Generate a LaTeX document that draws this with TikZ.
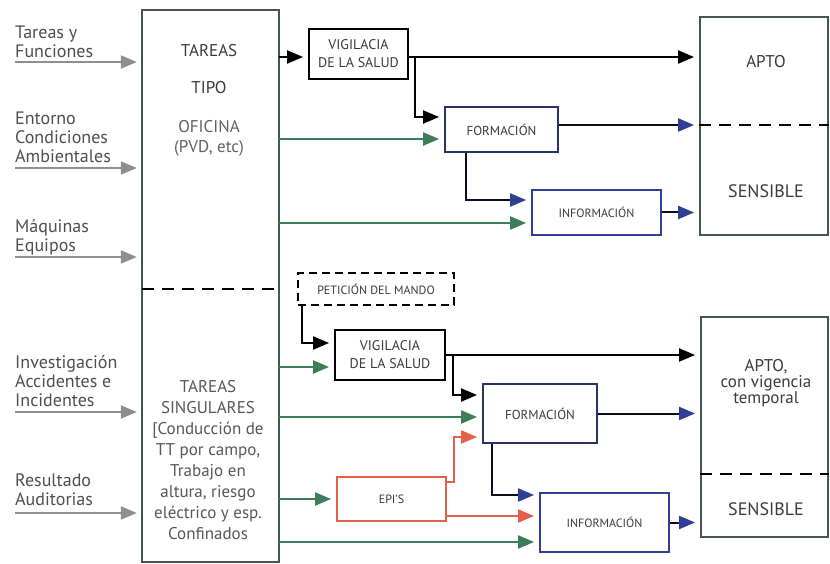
\documentclass[tikz,border=0pt]{standalone}
\usepackage{fontspec}
\setmainfont{PT Sans}
\usepackage{xcolor}
\usetikzlibrary{arrows.meta, positioning, calc}
\definecolor{verde}{HTML}{3E7D5A}
\definecolor{gris}{HTML}{8E8E8E}
\definecolor{azul}{HTML}{2F3F94}
\definecolor{marino}{HTML}{2A3068}
\definecolor{rojo}{HTML}{E2604C}
\definecolor{borde}{HTML}{43574E}
\definecolor{texto}{HTML}{3A3A3A}
\tikzstyle{caja} = [draw, line width=1.8pt, inner sep=0pt, align=center, text=texto]
\tikzstyle{vigilancia} = [caja, draw=black, font=\fontsize{14}{18}\selectfont]
\tikzstyle{formacion} = [caja, draw=marino, font=\fontsize{13}{16}\selectfont]
\tikzstyle{informacion} = [caja, draw=azul, font=\fontsize{12}{15}\selectfont]
\tikzstyle{proteccion} = [caja, draw=rojo, font=\fontsize{12}{15}\selectfont]
\tikzstyle{peticion} = [caja, draw=black, dash pattern=on 8pt off 5pt, font=\fontsize{12}{14}\selectfont]
\tikzstyle{resultado} = [caja, draw=borde]
\tikzstyle{etiqueta} = [anchor=north west, inner sep=0pt, align=left, text=texto!90, font=\fontsize{18}{19}\selectfont]
\tikzstyle{textocaja} = [anchor=north, inner sep=0pt, align=center, text=texto]
\tikzstyle{flecha} = [line width=2pt, -{Triangle[length=16pt,width=13pt]}, shorten >=5pt]
\tikzstyle{flechagris} = [flecha, gris]
\tikzstyle{flechaverde} = [flecha, verde]
\tikzstyle{flechanegra} = [flecha, black]
\tikzstyle{flecharoja} = [flecha, rojo]
\tikzstyle{flechaazul} = [flecha, draw=black!80!azul, -{Triangle[length=16pt,width=13pt,color=azul]}]
\tikzstyle{division} = [line width=1.8pt, dash pattern=on 12pt off 8pt]

\begin{document}
\begin{tikzpicture}[x=1pt, y=-1pt]
        \useasboundingbox (0,0) rectangle (830,564);

        % Bloques de tareas
        \node[minimum width=137pt, minimum height=279pt, inner sep=0pt] (oficina) at (210.5,149.5) {};
        \node[minimum width=137pt, minimum height=273pt, inner sep=0pt] (singular) at (210.5,425.5) {};
        \draw[borde, line width=1.8pt] (oficina.south west) -- (oficina.north west) -- (oficina.north east) -- (oficina.south east);
        \draw[borde, line width=1.8pt] (singular.north west) -- (singular.south west) -- (singular.south east) -- (singular.north east);
        \draw[division] (oficina.south west) -- (oficina.south east);
        \node[textocaja, font=\fontsize{17}{20}\selectfont] (oficinatxt) at (209,44) {TAREAS\\[17pt]TIPO\\[19pt]{\color{texto!80}OFICINA}\\{\color{texto!80}(PVD, etc)}};
        \node[textocaja, font=\fontsize{17}{21}\selectfont, text=texto!85] (singulartxt) at (208,380) {TAREAS\\SINGULARES\\{[}Conducción de\\TT por campo,\\Trabajo en\\altura, riesgo\\eléctrico y esp.\\Confinados};

        % Entradas
        \node[etiqueta] (tareasfunc) at (15,26) {Tareas y\\Funciones};
        \node[etiqueta] (entorno) at (15,112) {Entorno\\Condiciones\\Ambientales};
        \node[etiqueta] (maquinas) at (15,219) {Máquinas\\Equipos};
        \node[etiqueta] (investigacion) at (15,355) {Investigación\\Accidentes e\\Incidentes};
        \node[etiqueta] (auditorias) at (15,474) {Resultado\\Auditorias};
        \foreach \y/\n in {62/e1, 168/e2, 257/e3, 412/e4, 513/e5}
            \coordinate (\n) at (15,\y);
        \foreach \n in {e1, e2, e3}
            \draw[flechagris] (\n) -- (\n -| oficina.west);
        \foreach \n in {e4, e5}
            \draw[flechagris] (\n) -- (\n -| singular.west);

        % Tareas tipo
        \node[vigilancia, minimum width=99pt, minimum height=50pt] (vig1) at (358.5,54) {VIGILACIA\\DE LA SALUD};
        \node[formacion, minimum width=113pt, minimum height=45pt] (form1) at (501.5,129.5) {FORMACIÓN};
        \node[informacion, minimum width=129pt, minimum height=45pt] (info1) at (596.5,212.5) {INFORMACIÓN};
        \node[resultado, minimum width=128pt, minimum height=218pt] (apto1) at (764,126) {};
        \draw[division] ($(apto1.west)+(0,-1)$) -- ($(apto1.east)+(0,-1)$);
        \node[textocaja, font=\fontsize{17}{20}\selectfont] (apto1txt) at (766,55) {APTO};
        \node[textocaja, font=\fontsize{18}{20}\selectfont] (sensible1) at (766,184) {SENSIBLE};

        \coordinate (v1) at ($(vig1.east)+(0,3)$);
        \draw[flechanegra] (v1 -| oficina.east) -- ($(vig1.west)+(0,3)$);
        \draw[flechanegra] (v1) -- (v1 -| apto1.west);
        \draw[flechanegra] ($(v1)+(6,0)$) |- ($(form1.west)+(0,-12.5)$);
        \coordinate (f1v) at ($(form1.west)+(0,9.5)$);
        \draw[flechaverde] (f1v -| oficina.east) -- (f1v);
        \coordinate (f1s) at ($(form1.east)+(0,-4.5)$);
        \draw[flechaazul] (f1s) -- (f1s -| apto1.west);
        \draw[flechaazul] ($(form1.south west)+(22,0)$) |- ($(info1.west)+(0,-12.5)$);
        \coordinate (i1v) at ($(info1.west)+(0,10.5)$);
        \draw[flechaverde] (i1v -| oficina.east) -- (i1v);
        \draw[flechaazul] (info1.east) -- (info1.east -| apto1.west);

        % Tareas singulares
        \node[peticion, minimum width=156pt, minimum height=32pt] (pet) at (376,289) {PETICIÓN DEL MANDO};
        \node[vigilancia, minimum width=110pt, minimum height=50pt] (vig2) at (390,355) {VIGILACIA\\DE LA SALUD};
        \node[formacion, minimum width=114pt, minimum height=59pt] (form2) at (540,413.5) {FORMACIÓN};
        \node[proteccion, minimum width=109pt, minimum height=44pt] (epis) at (391.5,499) {EPI'S};
        \node[informacion, minimum width=129pt, minimum height=59pt] (info2) at (604.5,522.5) {INFORMACIÓN};
        \node[resultado, minimum width=127pt, minimum height=220pt] (apto2) at (764.5,427) {};
        \draw[division] ($(apto2.south west)+(0,-64)$) -- ($(apto2.south east)+(0,-64)$);
        \node[textocaja, font=\fontsize{17}{16}\selectfont] (apto2txt) at (766,359) {APTO,\\con vigencia\\temporal};
        \node[textocaja, font=\fontsize{18}{20}\selectfont] (sensible2) at (766,502) {SENSIBLE};

        \draw[flechanegra] ($(pet.south west)+(5,0)$) |- ($(vig2.west)+(0,-12)$);
        \coordinate (v2v) at ($(vig2.west)+(0,12)$);
        \draw[flechaverde] (v2v -| singular.east) -- (v2v);
        \draw[flechanegra] (vig2.east) -- (vig2.east -| apto2.west);
        \draw[flechanegra] ($(vig2.east)+(7,0)$) |- ($(form2.west)+(0,-18.5)$);
        \coordinate (f2v) at ($(form2.west)+(0,3.5)$);
        \draw[flechaverde] (f2v -| singular.east) -- (f2v);
        \draw[flecharoja] ($(epis.east)+(0,-17)$) -- ++(7,0) |- ($(form2.west)+(0,23.5)$);
        \draw[flechaverde] (epis.west -| singular.east) -- (epis.west);
        \coordinate (er) at ($(epis.east)+(0,17)$);
        \draw[flecharoja] (er) -- (er -| info2.west);
        \coordinate (i2v) at ($(info2.west)+(0,19.5)$);
        \draw[flechaverde] (i2v -| singular.east) -- (i2v);
        \draw[flechaazul] ($(form2.south west)+(10,0)$) |- ($(info2.west)+(0,-27.5)$);
        \draw[flechaazul] (form2.east) -- (form2.east -| apto2.west);
        \draw[flechaazul] (info2.east) -- (info2.east -| apto2.west);
\end{tikzpicture}
\end{document}
